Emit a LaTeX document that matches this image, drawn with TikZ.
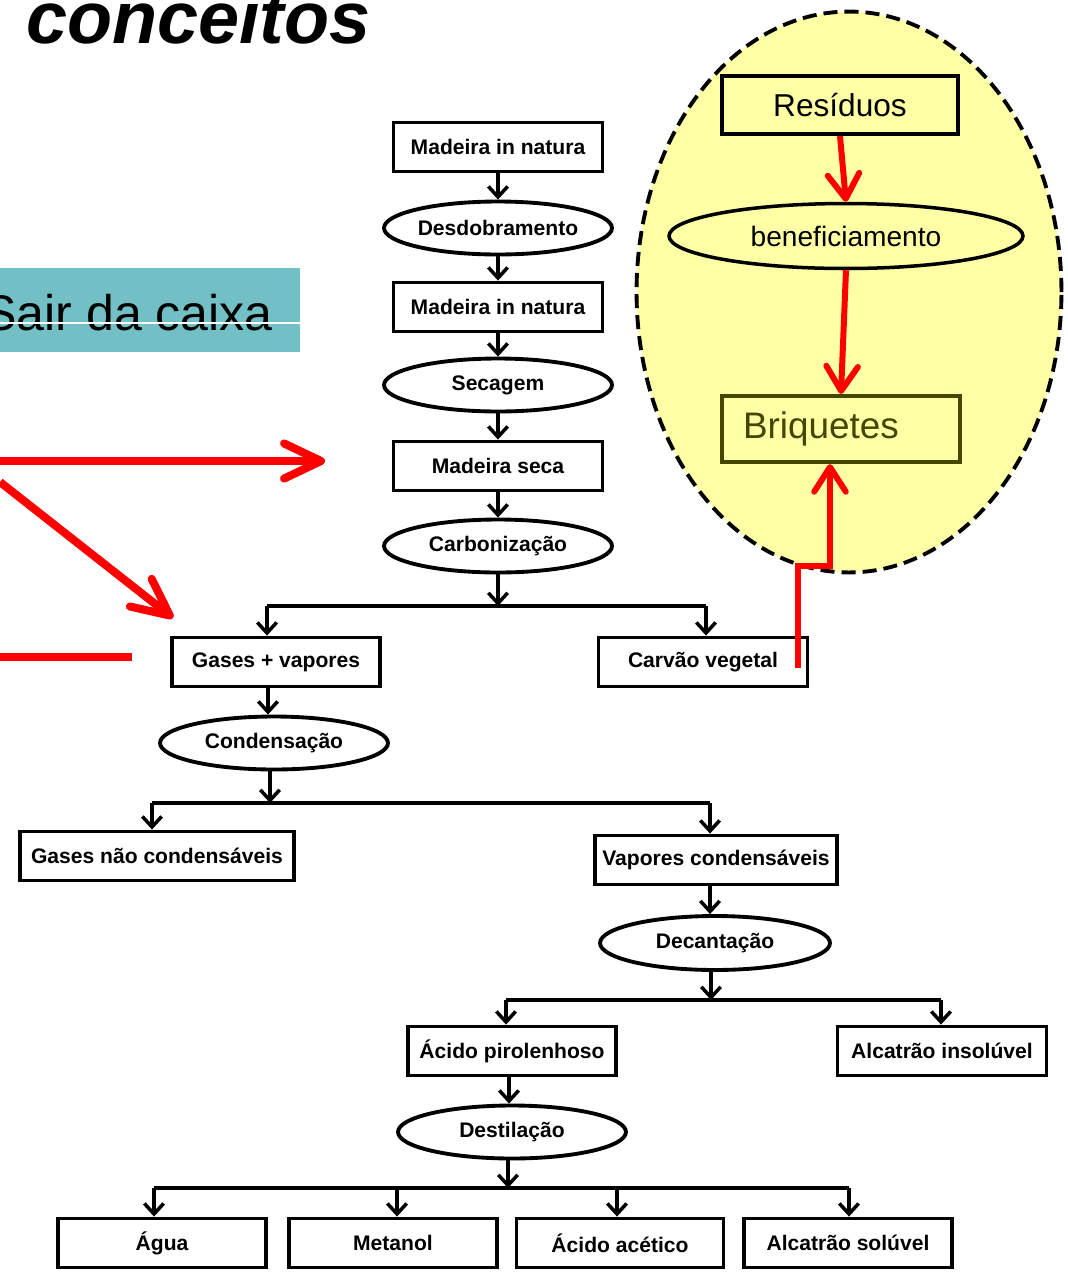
\documentclass[tikz,border=0pt]{standalone}
\usepackage{fontspec}
\setmainfont{Liberation Sans}
\usetikzlibrary{shapes.geometric, arrows.meta}

\definecolor{azulcaixa}{RGB}{114,191,198}
\definecolor{amarelo}{RGB}{255,255,165}
\definecolor{oliva}{RGB}{70,70,0}

\begin{document}
\begin{tikzpicture}[x=0.02cm, y=-0.02cm]
\tikzstyle{caixa}=[draw, line width=2.2pt, minimum width=4.18cm, minimum height=0.98cm, inner sep=0pt, font=\fontsize{12}{14}\selectfont\bfseries]
\tikzstyle{etapa}=[ellipse, draw, line width=2.2pt, minimum width=4.56cm, minimum height=1.06cm, inner sep=0pt, font=\fontsize{12}{14}\selectfont\bfseries]
\tikzstyle{seta}=[line width=2pt, -{Straight Barb[length=6pt,width=11pt]}]
\tikzstyle{ramo}=[line width=2.2pt]
\tikzstyle{vermelha}=[red, line width=3.4pt, -{Straight Barb[length=14pt,width=18pt,round]}]
\tikzstyle{vermelhagrossa}=[red, line width=4.6pt, -{Straight Barb[length=21pt,width=20pt,round]}]

\useasboundingbox (0,0) rectangle (1068,1279);
\clip (0,0) rectangle (1068,1279);

% titulo e caixa azul
\node[anchor=base west, font=\fontsize{42}{50}\selectfont\bfseries\itshape] (titulo) at (20,43) {conceitos};
\fill[azulcaixa] (0,268) rectangle (300,352);
\node[anchor=base east, font=\fontsize{28.5}{32}\selectfont] (sair) at (279,330) {Sair da caixa};
\draw[white, line width=0.6pt] (0,323) -- (300,323);

% elipse amarela
\node[ellipse, draw, dash pattern=on 8pt off 4pt, line width=2.2pt, fill=amarelo, minimum width=8.5cm, minimum height=11.22cm] (nuvem) at (849,292) {};
\node[draw, line width=2.4pt, minimum width=4.72cm, minimum height=1.16cm, font=\fontsize{18}{20}\selectfont] (res) at (840,105) {Resíduos};
\node[ellipse, draw, line width=2pt, minimum width=7.08cm, minimum height=1.3cm, inner sep=0pt, font=\fontsize{16}{18}\selectfont] (benef) at (846,236) {beneficiamento};
\node[draw=oliva, text=oliva, line width=2.4pt, minimum height=1.32cm, text width=3.92cm, inner xsep=0.42cm, align=left, font=\fontsize{21}{24}\selectfont] (briq) at (841,429) {Briquetes};

% fluxo principal
\node[caixa] (m1) at (498,147) {Madeira in natura};
\node[etapa] (desd) at (498,228) {Desdobramento};
\node[caixa] (m2) at (498,307) {Madeira in natura};
\node[etapa] (sec) at (498,385) {Secagem};
\node[caixa] (mseca) at (498,466) {Madeira seca};
\node[etapa] (carb) at (498,546) {Carbonização};
\node[caixa, minimum width=4.16cm] (gases) at (276,662) {Gases + vapores};
\node[caixa] (carvao) at (703,662) {Carvão vegetal};
\node[etapa] (cond) at (274,743) {Condensação};
\node[caixa, minimum width=5.48cm] (gnc) at (157,856) {Gases não condensáveis};
\node[caixa, minimum width=4.84cm] (vap) at (716,860) {Vapores condensáveis};
\node[etapa, minimum width=4.6cm, minimum height=1.08cm] (dec) at (715,943) {Decantação};
\node[caixa, minimum width=4.16cm] (acpir) at (512,1051) {Ácido pirolenhoso};
\node[caixa] (alcins) at (942,1051) {Alcatrão insolúvel};
\node[etapa] (dest) at (512,1132) {Destilação};
\node[caixa, minimum width=4.16cm] (agua) at (162,1243) {Água};
\node[caixa, minimum width=4.16cm] (metanol) at (393,1243) {Metanol};
\node[caixa, minimum width=4.14cm] (acac) at (620,1243) {Ácido acético};
\node[caixa, minimum width=4.16cm] (alcsol) at (848,1243) {Alcatrão solúvel};

\draw[seta] (m1) -- (desd);
\draw[seta] (desd) -- (m2);
\draw[seta] (m2) -- (sec);
\draw[seta] (sec) -- (mseca);
\draw[seta] (mseca) -- (carb);

\coordinate (r1a) at (267,606);
\coordinate (r1b) at (706,606);
\draw[seta] (carb.south) -- (carb.south |- r1a);
\draw[ramo] (r1a) -- (r1b);
\draw[seta] (r1a) -- (r1a |- gases.north);
\draw[seta] (r1b) -- (r1b |- carvao.north);

\draw[seta] (gases.south -| 268,0) -- (cond.north -| 268,0);
\coordinate (r2a) at (152,803);
\coordinate (r2b) at (710,803);
\draw[seta] (cond.south -| 270,0) -- (r2a -| 270,0);
\draw[ramo] (r2a) -- (r2b);
\draw[seta] (r2a) -- (r2a |- gnc.north);
\draw[seta] (r2b) -- (r2b |- vap.north);
\draw[seta] (vap.south -| 710,0) -- (dec.north -| 710,0);

\coordinate (r3a) at (506,1000);
\coordinate (r3b) at (941,1000);
\draw[seta] (dec.south -| 711,0) -- (r3a -| 711,0);
\draw[ramo] (r3a) -- (r3b);
\draw[seta] (r3a) -- (r3a |- acpir.north);
\draw[seta] (r3b) -- (r3b |- alcins.north);
\draw[seta] (acpir.south -| 509,0) -- (dest.north -| 509,0);

\coordinate (r4a) at (154,1188);
\coordinate (r4b) at (397,1188);
\coordinate (r4c) at (617,1188);
\coordinate (r4d) at (849,1188);
\draw[seta] (dest.south -| 508,0) -- (r4a -| 508,0);
\draw[ramo] (r4a) -- (r4d);
\draw[seta] (r4a) -- (r4a |- agua.north);
\draw[seta] (r4b) -- (r4b |- metanol.north);
\draw[seta] (r4c) -- (r4c |- acac.north);
\draw[seta] (r4d) -- (r4d |- alcsol.north);

% setas vermelhas
\draw[vermelha] (res.south) -- (benef.north);
\draw[vermelha] (benef.south) -- (briq.north);
\coordinate (saida) at (798,668);
\coordinate (dobra) at (830,566);
\draw[vermelha] (saida) |- (dobra) -- (dobra |- briq.south);

\coordinate (e1) at (0,461);
\coordinate (alvo1) at (325,461);
\coordinate (e2) at (0,482);
\coordinate (alvo2) at (173,618);
\coordinate (e3) at (0,657);
\coordinate (f3) at (132,657);
\draw[vermelhagrossa] (e1) -- (alvo1);
\draw[vermelhagrossa] (e2) -- (alvo2);
\draw[red, line width=4.6pt] (e3) -- (f3);
\end{tikzpicture}
\end{document}
